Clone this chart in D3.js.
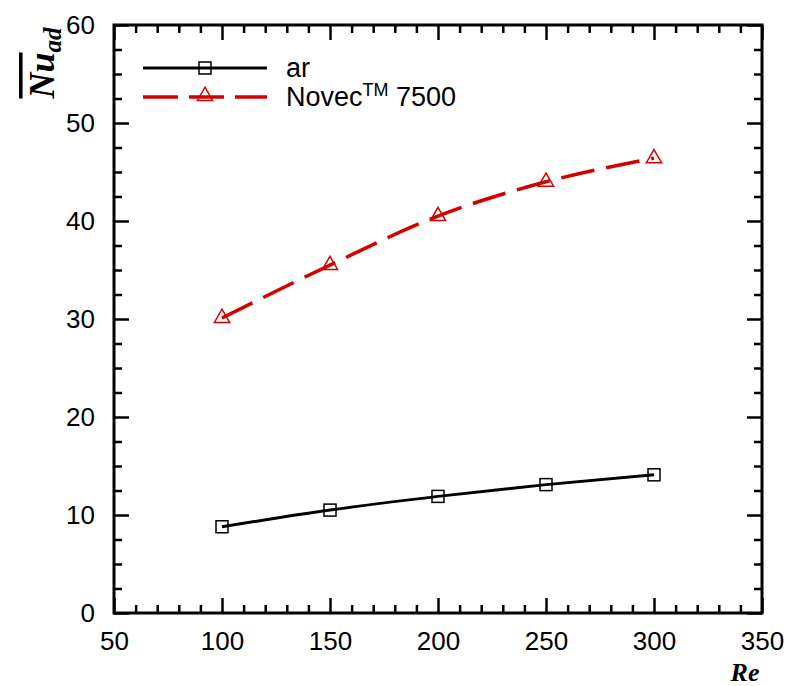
<!DOCTYPE html>
<html>
<head>
<meta charset="utf-8">
<script src="https://cdn.jsdelivr.net/npm/d3@7"></script>
<style>
  body { margin: 0; background: #fff; }
  text { font-family: "Liberation Sans", Arial, sans-serif; }
</style>
</head>
<body>
<div id="chart"></div>
<script>
const reValues = [100, 150, 200, 250, 300];
const nuAr = [8.8, 10.5, 11.9, 13.1, 14.1];
const nuNovec = [30.1, 35.5, 40.5, 44.0, 46.4];
const xTicks = [50, 100, 150, 200, 250, 300, 350];
const yTicks = [0, 10, 20, 30, 40, 50, 60];

const W = 785, H = 686;
const margin = { top: 25, right: 23, bottom: 73, left: 114 };
const width = W - margin.left - margin.right,
      height = H - margin.top - margin.bottom;

const svg = d3.select("#chart").append("svg")
    .attr("width", W)
    .attr("height", H);

const g = svg.append("g")
    .attr("transform", "translate(" + margin.left + "," + margin.top + ")");

const x = d3.scaleLinear().domain([50, 350]).range([0, width]);
const y = d3.scaleLinear().domain([0, 60]).range([height, 0]);

// minor ticks
const xMinor = d3.range(50, 351, 10).filter(v => v % 50 !== 0);
const yMinor = d3.range(0, 60.1, 2.5).filter(v => v % 10 !== 0);

const labelStyle = a => a.selectAll("text")
    .attr("font-size", 26).attr("fill", "#000")
    .style("font-family", "Liberation Sans, Arial");

// bottom
g.append("g")
    .attr("transform", "translate(0," + height + ")")
    .call(d3.axisBottom(x).tickValues(xTicks).tickSize(-15).tickPadding(19).tickSizeOuter(0))
    .call(labelStyle);
g.append("g")
    .attr("transform", "translate(0," + height + ")")
    .call(d3.axisBottom(x).tickValues(xMinor).tickSize(-8).tickFormat("").tickSizeOuter(0));
// top
g.append("g")
    .call(d3.axisTop(x).tickValues(xTicks).tickSize(-15).tickFormat("").tickSizeOuter(0));
g.append("g")
    .call(d3.axisTop(x).tickValues(xMinor).tickSize(-8).tickFormat("").tickSizeOuter(0));
// left
g.append("g")
    .call(d3.axisLeft(y).tickValues(yTicks).tickSize(-15).tickPadding(19).tickSizeOuter(0))
    .call(labelStyle);
g.append("g")
    .call(d3.axisLeft(y).tickValues(yMinor).tickSize(-8).tickFormat("").tickSizeOuter(0));
// right
g.append("g")
    .attr("transform", "translate(" + width + ",0)")
    .call(d3.axisRight(y).tickValues(yTicks).tickSize(-15).tickFormat("").tickSizeOuter(0));
g.append("g")
    .attr("transform", "translate(" + width + ",0)")
    .call(d3.axisRight(y).tickValues(yMinor).tickSize(-8).tickFormat("").tickSizeOuter(0));

g.selectAll(".domain").remove();
g.selectAll(".tick line").attr("stroke", "#000").attr("stroke-width", 2.5);

// frame
g.append("rect")
    .attr("width", width)
    .attr("height", height)
    .attr("fill", "none")
    .attr("stroke", "#000")
    .attr("stroke-width", 3);

const line = d3.line()
    .x(d => x(d[0]))
    .y(d => y(d[1]))
    .curve(d3.curveMonotoneX);

const arData = reValues.map((r, i) => [r, nuAr[i]]);
const novecData = reValues.map((r, i) => [r, nuNovec[i]]);

g.append("path")
    .datum(arData)
    .attr("d", line)
    .attr("fill", "none")
    .attr("stroke", "#000")
    .attr("stroke-width", 3);

g.append("path")
    .datum(novecData)
    .attr("d", line)
    .attr("fill", "none")
    .attr("stroke", "#d40000")
    .attr("stroke-width", 3.5)
    .attr("stroke-dasharray", "34,12");

const sq = 12;
g.selectAll(".sq")
  .data(arData)
  .enter().append("rect")
    .attr("x", d => x(d[0]) - sq / 2)
    .attr("y", d => y(d[1]) - sq / 2)
    .attr("width", sq)
    .attr("height", sq)
    .attr("fill", "none")
    .attr("stroke", "#000")
    .attr("stroke-width", 1.5);

const tri = d3.symbol().type(d3.symbolTriangle).size(100);
g.selectAll(".tri")
  .data(novecData)
  .enter().append("path")
    .attr("d", tri)
    .attr("transform", d => "translate(" + x(d[0]) + "," + y(d[1]) + ")")
    .attr("fill", "none")
    .attr("stroke", "#d40000")
    .attr("stroke-width", 1.5);

// legend
const lg = svg.append("g");
lg.append("line").attr("x1", 143).attr("x2", 267).attr("y1", 68).attr("y2", 68)
    .attr("stroke", "#000").attr("stroke-width", 3);
lg.append("rect").attr("x", 205 - sq / 2).attr("y", 68 - sq / 2).attr("width", sq).attr("height", sq)
    .attr("fill", "none").attr("stroke", "#000").attr("stroke-width", 1.5);
lg.append("text").attr("x", 286).attr("y", 77).attr("font-size", 27).text("ar");

lg.append("line").attr("x1", 143).attr("x2", 267).attr("y1", 97).attr("y2", 97)
    .attr("stroke", "#d40000").attr("stroke-width", 3.5).attr("stroke-dasharray", "35,11");
lg.append("path").attr("d", tri).attr("transform", "translate(205,96)")
    .attr("fill", "none").attr("stroke", "#d40000").attr("stroke-width", 1.5);
const nt = lg.append("text").attr("x", 286).attr("y", 106).attr("font-size", 27);
nt.append("tspan").text("Novec");
nt.append("tspan").attr("font-size", 18).attr("dy", -10).text("TM");
nt.append("tspan").attr("dy", 10).text(" 7500");

// axis titles
const yt = svg.append("text")
    .attr("transform", "translate(54,63) rotate(-90)")
    .attr("text-anchor", "middle")
    .style("font-family", "Liberation Serif, Times New Roman, serif")
    .attr("font-weight", "bold")
    .attr("font-style", "italic");
yt.append("tspan").attr("font-size", 36).attr("text-decoration", "overline").text("Nu");
yt.append("tspan").attr("font-size", 25).attr("dy", 7).text("ad");

svg.append("text")
    .attr("x", 745)
    .attr("y", 681)
    .attr("text-anchor", "middle")
    .style("font-family", "Liberation Serif, Times New Roman, serif")
    .attr("font-weight", "bold")
    .attr("font-style", "italic")
    .attr("font-size", 26)
    .text("Re");
</script>
</body>
</html>
